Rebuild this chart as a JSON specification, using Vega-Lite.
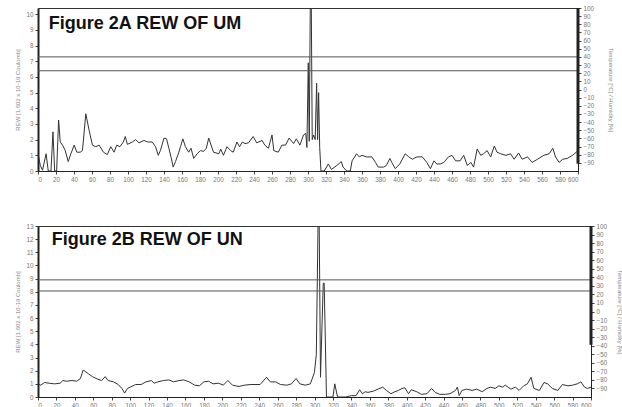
{
  "$schema": "https://vega.github.io/schema/vega-lite/v6.json",
  "padding": {"left": 14, "top": 4, "right": 0, "bottom": 0},
  "background": "white",
  "spacing": 39,
  "config": {
    "font": "Liberation Sans",
    "view": {"stroke": "#333", "strokeWidth": 1},
    "axis": {"grid": false, "labelFontSize": 6.3, "labelColor": "#777", "tickColor": "#444", "domainColor": "#222", "tickSize": 3, "labelPadding": 2, "titleFontSize": 6, "titleColor": "#888", "titleFontWeight": "normal", "labelOverlap": false}
  },
  "datasets": {
    "a": [
      {"t":0,"rew":1.1},{"t":2.6,"rew":0.35},{"t":5,"rew":0.05},{"t":9,"rew":1.1},{"t":11.4,"rew":0},{"t":14.4,"rew":0},{"t":16.6,"rew":2.5},{"t":18.5,"rew":0},{"t":20.7,"rew":0},{"t":22.9,"rew":3.25},{"t":24.7,"rew":1.85},{"t":27.3,"rew":1.65},{"t":30.3,"rew":1.3},{"t":33.6,"rew":0.6},{"t":36.5,"rew":1.1},{"t":40.2,"rew":1.65},{"t":43.2,"rew":1.2},{"t":46.9,"rew":1.2},{"t":49.4,"rew":1.3},{"t":53.1,"rew":3.65},{"t":56.8,"rew":2.6},{"t":60.5,"rew":1.65},{"t":64.2,"rew":1.55},{"t":67.9,"rew":1.65},{"t":72.7,"rew":1.2},{"t":77,"rew":1.05},{"t":80.8,"rew":1.55},{"t":84.5,"rew":1.2},{"t":87.5,"rew":1.65},{"t":91,"rew":1.55},{"t":94.8,"rew":1.85},{"t":97,"rew":2.2},{"t":99.3,"rew":1.7},{"t":104.8,"rew":1.85},{"t":108.5,"rew":2.0},{"t":112.2,"rew":1.8},{"t":117.7,"rew":1.95},{"t":122,"rew":1.85},{"t":127,"rew":1.85},{"t":130.6,"rew":1.55},{"t":133.6,"rew":1.0},{"t":136,"rew":1.3},{"t":140,"rew":2.1},{"t":142.8,"rew":2.05},{"t":145.4,"rew":1.45},{"t":148,"rew":0.85},{"t":150.2,"rew":0.25},{"t":152.8,"rew":0.6},{"t":156.5,"rew":1.2},{"t":158.3,"rew":1.55},{"t":161,"rew":2.05},{"t":163.8,"rew":1.55},{"t":167.5,"rew":1.2},{"t":170,"rew":1.45},{"t":173,"rew":0.8},{"t":176.8,"rew":1.1},{"t":180.4,"rew":1.3},{"t":184,"rew":1.25},{"t":187,"rew":1.45},{"t":189.7,"rew":2.1},{"t":195,"rew":1.2},{"t":201,"rew":1.1},{"t":203,"rew":1.4},{"t":206,"rew":1.0},{"t":210,"rew":1.55},{"t":214,"rew":1.3},{"t":217,"rew":1.2},{"t":221,"rew":1.85},{"t":224,"rew":1.55},{"t":227,"rew":1.85},{"t":230,"rew":1.75},{"t":234,"rew":1.8},{"t":239,"rew":2.2},{"t":243,"rew":1.8},{"t":249,"rew":1.95},{"t":252,"rew":1.65},{"t":256,"rew":1.45},{"t":260,"rew":2.3},{"t":262,"rew":1.3},{"t":267,"rew":1.2},{"t":271,"rew":1.65},{"t":275,"rew":1.65},{"t":279,"rew":2.1},{"t":284,"rew":1.75},{"t":287,"rew":2.05},{"t":291,"rew":1.65},{"t":295,"rew":2.3},{"t":297.5,"rew":2.4},{"t":298.8,"rew":1.5},{"t":300.3,"rew":6.9},{"t":301.4,"rew":1.9},{"t":302.6,"rew":11},{"t":303.6,"rew":11},{"t":304.7,"rew":2.0},{"t":306.2,"rew":2.3},{"t":308,"rew":2.0},{"t":309.6,"rew":5.6},{"t":310.7,"rew":2.0},{"t":311.8,"rew":5.0},{"t":313,"rew":1.5},{"t":314.4,"rew":0},
      {"t":318,"rew":0},{"t":322.6,"rew":0.45},{"t":326,"rew":0.1},{"t":332,"rew":0.35},{"t":337,"rew":0.6},{"t":339,"rew":0.25},{"t":343,"rew":0},{"t":347,"rew":0},{"t":349,"rew":0.65},{"t":354,"rew":1.1},{"t":357,"rew":0.9},{"t":360,"rew":1.0},{"t":365,"rew":0.9},{"t":371,"rew":0.9},{"t":375,"rew":0.55},{"t":378,"rew":0.25},{"t":384,"rew":0.25},{"t":387,"rew":0.35},{"t":391,"rew":0.8},{"t":393,"rew":0.55},{"t":397,"rew":0.15},{"t":402,"rew":0.45},{"t":408,"rew":1.1},{"t":412,"rew":0.9},{"t":416,"rew":0.75},{"t":421,"rew":0.9},{"t":427,"rew":0.9},{"t":432,"rew":0.55},{"t":436,"rew":0.15},{"t":440,"rew":0.65},{"t":443,"rew":0.45},{"t":447,"rew":0.45},{"t":451,"rew":0.55},{"t":456,"rew":0.9},{"t":460,"rew":1.0},{"t":464,"rew":0.65},{"t":469,"rew":0.65},{"t":473,"rew":1.0},{"t":477,"rew":0.35},{"t":481,"rew":0.55},{"t":484,"rew":0.25},{"t":488,"rew":1.4},{"t":492,"rew":1.0},{"t":495,"rew":1.1},{"t":499,"rew":1.3},{"t":503,"rew":0.9},{"t":507,"rew":1.6},{"t":510,"rew":1.2},{"t":514,"rew":1.1},{"t":520,"rew":1.0},{"t":525,"rew":1.1},{"t":529,"rew":0.75},{"t":534,"rew":1.15},{"t":538,"rew":0.75},{"t":544,"rew":0.9},{"t":549,"rew":0.55},{"t":555,"rew":0.75},{"t":562,"rew":1.0},{"t":568,"rew":1.1},{"t":572,"rew":1.45},{"t":575,"rew":0.9},{"t":579,"rew":0.55},{"t":583,"rew":0.75},{"t":588,"rew":0.8},{"t":594,"rew":1.0},{"t":600,"rew":1.3}
    ],
    "b": [
      {"t":0,"rew":1.0},{"t":3,"rew":0.9},{"t":7,"rew":1.1},{"t":12,"rew":1.05},{"t":18,"rew":1.0},{"t":24,"rew":1.05},{"t":27,"rew":1.25},{"t":31,"rew":1.2},{"t":37,"rew":1.25},{"t":42,"rew":1.2},{"t":46,"rew":1.4},{"t":49,"rew":2.05},{"t":52,"rew":1.9},{"t":55,"rew":1.75},{"t":59,"rew":1.55},{"t":65,"rew":1.35},{"t":69,"rew":1.25},{"t":73,"rew":1.55},{"t":76,"rew":1.25},{"t":82,"rew":1.15},{"t":87,"rew":0.95},{"t":91,"rew":0.65},{"t":94,"rew":0.3},{"t":97,"rew":0.65},{"t":100,"rew":0.75},{"t":106,"rew":0.95},{"t":112,"rew":0.95},{"t":117,"rew":1.15},{"t":123,"rew":1.25},{"t":126,"rew":1.05},{"t":130,"rew":1.15},{"t":136,"rew":1.25},{"t":142,"rew":1.3},{"t":147,"rew":1.15},{"t":153,"rew":1.25},{"t":158,"rew":1.3},{"t":164,"rew":1.15},{"t":170,"rew":0.9},{"t":175,"rew":0.85},{"t":180,"rew":1.15},{"t":185,"rew":1.2},{"t":190,"rew":1.0},{"t":196,"rew":1.05},{"t":201,"rew":0.9},{"t":206,"rew":1.25},{"t":211,"rew":0.9},{"t":218,"rew":0.8},{"t":224,"rew":0.9},{"t":231,"rew":0.95},{"t":241,"rew":0.95},{"t":248,"rew":1.5},{"t":252,"rew":1.15},{"t":258,"rew":1.15},{"t":263,"rew":0.95},{"t":270,"rew":0.9},{"t":275,"rew":1.0},{"t":280,"rew":1.4},{"t":284,"rew":1.0},{"t":290,"rew":0.9},{"t":295.5,"rew":1.0},{"t":299.9,"rew":1.85},{"t":302,"rew":3.25},{"t":304,"rew":14},{"t":305,"rew":14},{"t":306.5,"rew":1.5},{"t":309.5,"rew":8.65},{"t":310.5,"rew":8.65},{"t":313,"rew":0},{"t":320,"rew":0},{"t":322,"rew":1.0},{"t":325,"rew":0},
      {"t":334,"rew":0},{"t":340,"rew":0.1},{"t":345,"rew":0.1},{"t":349,"rew":0.55},{"t":352,"rew":0.25},{"t":355,"rew":0.4},{"t":358,"rew":0.35},{"t":364,"rew":0.45},{"t":369,"rew":0.6},{"t":374,"rew":0.75},{"t":378,"rew":0.5},{"t":383,"rew":0.25},{"t":387,"rew":0.4},{"t":391,"rew":0.5},{"t":395,"rew":0.65},{"t":398,"rew":0.7},{"t":402,"rew":0.25},{"t":405,"rew":0.55},{"t":411,"rew":0.4},{"t":416,"rew":0.2},{"t":422,"rew":0.25},{"t":427,"rew":0.65},{"t":431,"rew":0.35},{"t":436,"rew":0.2},{"t":442,"rew":0.2},{"t":447,"rew":0.25},{"t":453,"rew":0.5},{"t":455,"rew":0.75},{"t":457,"rew":0.1},{"t":460,"rew":0.5},{"t":465,"rew":0.6},{"t":471,"rew":0.5},{"t":476,"rew":0.6},{"t":482,"rew":0.4},{"t":487,"rew":0.65},{"t":491,"rew":0.75},{"t":496,"rew":0.65},{"t":500,"rew":0.85},{"t":504,"rew":0.75},{"t":507,"rew":0.9},{"t":513,"rew":0.6},{"t":518,"rew":0.75},{"t":522,"rew":0.5},{"t":527,"rew":0.85},{"t":531,"rew":1.0},{"t":535,"rew":1.5},{"t":538,"rew":0.65},{"t":544,"rew":0.5},{"t":549,"rew":1.1},{"t":553,"rew":1.0},{"t":558,"rew":0.65},{"t":564,"rew":0.5},{"t":569,"rew":0.95},{"t":575,"rew":0.85},{"t":580,"rew":0.9},{"t":585,"rew":1.0},{"t":589,"rew":1.15},{"t":593,"rew":0.75},{"t":596,"rew":0.65},{"t":600,"rew":0.75}
    ],
    "envA": [{"v": 40}, {"v": 23}],
    "envB": [{"v": 37}, {"v": 24}],
    "barA": [{"t": 600, "lo": -91, "hi": 100}],
    "barB": [{"t": 600, "lo": -39, "hi": 100}],
    "labA": [{"t": 12, "y": 9.05, "label": "Figure 2A REW OF UM"}],
    "labB": [{"t": 15, "y": 11.55, "label": "Figure 2B REW OF UN"}]
  },
  "vconcat": [
    {
      "width": 540,
      "height": 163,
      "layer": [
        {
          "layer": [
            {
              "data": {"name": "a"},
              "mark": {"type": "line", "clip": true, "color": "#333", "strokeWidth": 1},
              "encoding": {
                "x": {"field": "t", "type": "quantitative", "scale": {"domain": [0, 600], "nice": false}, "axis": {"values": [0,20,40,60,80,100,120,140,160,180,200,220,240,260,280,300,320,340,360,380,400,420,440,460,480,500,520,540,560,580,600], "title": null, "labelOverlap": false}},
                "y": {"field": "rew", "type": "quantitative", "scale": {"domain": [0, 10.4], "nice": false, "zero": false}, "axis": {"values": [0,1,2,3,4,5,6,7,8,9,10], "title": "REW [1.602 x 10-19 Coulomb]", "titlePadding": 5, "domainWidth": 2, "labelOverlap": false}}
              }
            },
            {
              "data": {"name": "labA"},
              "mark": {"type": "text", "align": "left", "baseline": "alphabetic", "fontSize": 18, "fontWeight": "bold", "font": "Liberation Sans", "color": "#111"},
              "encoding": {
                "x": {"field": "t", "type": "quantitative", "axis": {"values": [0,20,40,60,80,100,120,140,160,180,200,220,240,260,280,300,320,340,360,380,400,420,440,460,480,500,520,540,560,580,600], "title": null, "labelOverlap": false}},
                "y": {"field": "y", "type": "quantitative", "axis": {"values": [0,1,2,3,4,5,6,7,8,9,10], "title": "REW [1.602 x 10-19 Coulomb]", "titlePadding": 5, "domainWidth": 2, "labelOverlap": false}},
                "text": {"field": "label"}
              }
            }
          ]
        },
        {
          "layer": [
            {
              "data": {"name": "envA"},
              "mark": {"type": "rule", "color": "#555", "strokeWidth": 1},
              "encoding": {
                "y": {"field": "v", "type": "quantitative", "scale": {"domain": [-100, 100], "nice": false}, "axis": {"orient": "right", "values": [-90,-80,-70,-60,-50,-40,-30,-20,-10,0,10,20,30,40,50,60,70,80,90,100], "title": "Temperature [°C] / Humidity [%]", "titlePadding": 14, "labelOverlap": false}}
              }
            },
            {
              "data": {"name": "barA"},
              "mark": {"type": "rule", "color": "#222", "strokeWidth": 3},
              "encoding": {
                "x": {"field": "t", "type": "quantitative", "axis": {"values": [0,20,40,60,80,100,120,140,160,180,200,220,240,260,280,300,320,340,360,380,400,420,440,460,480,500,520,540,560,580,600], "title": null, "labelOverlap": false}},
                "y": {"field": "lo", "type": "quantitative", "axis": {"orient": "right", "values": [-90,-80,-70,-60,-50,-40,-30,-20,-10,0,10,20,30,40,50,60,70,80,90,100], "title": "Temperature [°C] / Humidity [%]", "titlePadding": 14, "labelOverlap": false}},
                "y2": {"field": "hi"}
              }
            }
          ]
        }
      ],
      "resolve": {"scale": {"y": "independent"}}
    },
    {
      "width": 553,
      "height": 171,
      "layer": [
        {
          "layer": [
            {
              "data": {"name": "b"},
              "mark": {"type": "line", "clip": true, "color": "#333", "strokeWidth": 1},
              "encoding": {
                "x": {"field": "t", "type": "quantitative", "scale": {"domain": [0, 600], "nice": false}, "axis": {"values": [0,20,40,60,80,100,120,140,160,180,200,220,240,260,280,300,320,340,360,380,400,420,440,460,480,500,520,540,560,580,600], "title": "Time [Sec]", "titleFontSize": 7, "titlePadding": 3, "labelOverlap": false}},
                "y": {"field": "rew", "type": "quantitative", "scale": {"domain": [0, 13], "nice": false, "zero": false}, "axis": {"values": [0,1,2,3,4,5,6,7,8,9,10,11,12,13], "title": "REW [1.602 x 10-19 Coulomb]", "titlePadding": 5, "domainWidth": 2, "labelOverlap": false}}
              }
            },
            {
              "data": {"name": "labB"},
              "mark": {"type": "text", "align": "left", "baseline": "alphabetic", "fontSize": 18, "fontWeight": "bold", "font": "Liberation Sans", "color": "#111"},
              "encoding": {
                "x": {"field": "t", "type": "quantitative", "axis": {"values": [0,20,40,60,80,100,120,140,160,180,200,220,240,260,280,300,320,340,360,380,400,420,440,460,480,500,520,540,560,580,600], "title": "Time [Sec]", "titleFontSize": 7, "titlePadding": 3, "labelOverlap": false}},
                "y": {"field": "y", "type": "quantitative", "axis": {"values": [0,1,2,3,4,5,6,7,8,9,10,11,12,13], "title": "REW [1.602 x 10-19 Coulomb]", "titlePadding": 5, "domainWidth": 2, "labelOverlap": false}},
                "text": {"field": "label"}
              }
            }
          ]
        },
        {
          "layer": [
            {
              "data": {"name": "envB"},
              "mark": {"type": "rule", "color": "#555", "strokeWidth": 1},
              "encoding": {
                "y": {"field": "v", "type": "quantitative", "scale": {"domain": [-100, 100], "nice": false}, "axis": {"orient": "right", "values": [-90,-80,-70,-60,-50,-40,-30,-20,-10,0,10,20,30,40,50,60,70,80,90,100], "title": "Temperature [°C] / Humidity [%]", "titlePadding": 10, "labelOverlap": false}}
              }
            },
            {
              "data": {"name": "barB"},
              "mark": {"type": "rule", "color": "#222", "strokeWidth": 3},
              "encoding": {
                "x": {"field": "t", "type": "quantitative", "axis": {"values": [0,20,40,60,80,100,120,140,160,180,200,220,240,260,280,300,320,340,360,380,400,420,440,460,480,500,520,540,560,580,600], "title": "Time [Sec]", "titleFontSize": 7, "titlePadding": 3, "labelOverlap": false}},
                "y": {"field": "lo", "type": "quantitative", "axis": {"orient": "right", "values": [-90,-80,-70,-60,-50,-40,-30,-20,-10,0,10,20,30,40,50,60,70,80,90,100], "title": "Temperature [°C] / Humidity [%]", "titlePadding": 10, "labelOverlap": false}},
                "y2": {"field": "hi"}
              }
            }
          ]
        }
      ],
      "resolve": {"scale": {"y": "independent"}}
    }
  ]
}
